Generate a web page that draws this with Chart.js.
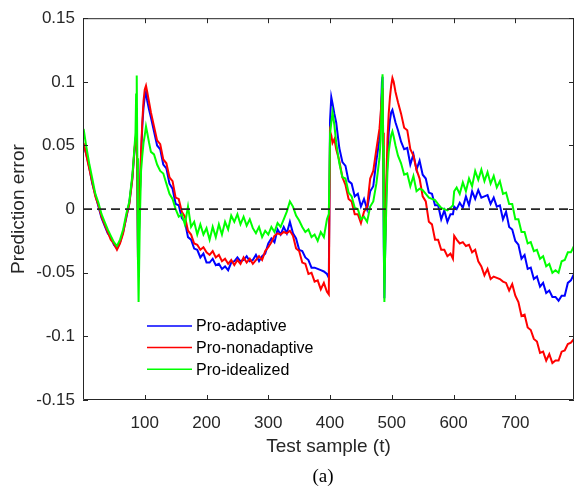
<!DOCTYPE html>
<html>
<head>
<meta charset="utf-8">
<script src="https://cdn.jsdelivr.net/npm/chart.js@4.4.1/dist/chart.umd.min.js"></script>
<style>
  html, body { margin: 0; padding: 0; background: #fff; }
  #wrap { width: 576px; height: 486px; position: relative; }
</style>
</head>
<body>
<div id="wrap"><canvas id="chart-error"></canvas></div>
<script>
// Test sample index (t) at which each value was read
const samples = [
  1, 5, 10, 15, 20, 25, 30, 35, 40, 45, 50, 55, 60, 65, 70, 75, 80,
  83, 85, 86, 87, 88, 89, 90, 92, 94, 96, 98, 100, 102, 104, 107, 110,
  115, 120, 125, 130, 135, 140, 145, 150, 155, 160, 165, 170, 175, 180, 185, 190, 195, 200,
  205, 210, 215, 220, 225, 230, 235, 240, 245, 250, 255, 260, 265, 270, 275, 280, 285, 290, 295, 300,
  305, 310, 315, 320, 325, 330, 335, 340, 345, 350, 355, 360, 365, 370, 375, 380, 385, 390, 395,
  398, 400, 402, 404, 407, 410,
  415, 420, 425, 430, 435, 440, 445, 450, 455, 460, 465, 470, 475, 480,
  482, 484, 485, 486, 487, 488, 489, 491, 493, 495, 497, 499, 501, 503, 506, 510,
  515, 520, 525, 530, 535, 540, 545, 550, 555, 560, 565, 570, 575, 580, 585, 590, 595,
  599, 601,
  605, 610, 615, 620, 625, 630, 635, 640, 645, 650, 655, 660, 665, 670, 675, 680, 685, 690, 695, 700,
  705, 710, 715, 720, 725, 730, 735, 740, 745, 750, 755, 760, 765, 770, 775, 780, 785, 790, 795
];

const proAdaptive = [
  0.050, 0.044, 0.033, 0.020, 0.011, 0.002, -0.007, -0.013, -0.019, -0.022, -0.028, -0.031, -0.026, -0.018, -0.007, 0.005, 0.025,
  0.044, 0.054, 0.057, 0.054, 0.018, -0.038, -0.032, 0.008, 0.042, 0.065, 0.080, 0.088, 0.092, 0.085, 0.078, 0.072,
  0.061, 0.050, 0.047, 0.035, 0.032, 0.020, 0.016, 0.004, 0.003, -0.007, -0.010, -0.022, -0.024, -0.031, -0.032, -0.038, -0.035, -0.042,
  -0.042, -0.039, -0.044, -0.043, -0.047, -0.045, -0.048, -0.042, -0.041, -0.038, -0.041, -0.040, -0.037, -0.041, -0.040, -0.036, -0.041, -0.037, -0.035, -0.027,
  -0.023, -0.026, -0.016, -0.020, -0.014, -0.019, -0.010, -0.019, -0.023, -0.032, -0.033, -0.038, -0.040, -0.046, -0.046, -0.047, -0.048, -0.049, -0.051,
  -0.054, 0.070, 0.088, 0.083, 0.075, 0.068,
  0.048, 0.037, 0.034, 0.022, 0.020, 0.010, 0.012, 0.002, 0.008, 0.000, 0.014, 0.018, 0.038, 0.055,
  0.070, 0.100, 0.104, 0.040, -0.030, -0.070, -0.040, 0.010, 0.040, 0.060, 0.070, 0.076, 0.078, 0.074, 0.068, 0.062,
  0.053, 0.047, 0.048, 0.035, 0.043, 0.031, 0.038, 0.027, 0.024, 0.013, 0.012, 0.003, 0.003, -0.008, -0.001, -0.010, -0.004,
  -0.004, 0.002,
  0.000, 0.005, 0.001, 0.010, 0.003, 0.014, 0.008, 0.015, 0.009, 0.010, 0.011, 0.004, 0.009, 0.002, 0.003, -0.008, -0.002, -0.014, -0.016, -0.025,
  -0.028, -0.039, -0.036, -0.047, -0.046, -0.055, -0.053, -0.061, -0.058, -0.066, -0.064, -0.069, -0.069, -0.072, -0.068, -0.068, -0.058, -0.056, -0.051
];

const proNonadaptive = [
  0.052, 0.043, 0.032, 0.021, 0.010, 0.003, -0.006, -0.012, -0.018, -0.024, -0.027, -0.032, -0.027, -0.019, -0.006, 0.004, 0.024,
  0.045, 0.055, 0.058, 0.055, 0.020, -0.040, -0.030, 0.010, 0.045, 0.068, 0.085, 0.094, 0.097, 0.092, 0.084, 0.076,
  0.065, 0.054, 0.051, 0.039, 0.036, 0.025, 0.022, 0.009, 0.008, -0.002, -0.006, -0.017, -0.020, -0.027, -0.028, -0.032, -0.030, -0.034,
  -0.036, -0.033, -0.038, -0.036, -0.041, -0.039, -0.043, -0.040, -0.044, -0.040, -0.043, -0.038, -0.042, -0.039, -0.043, -0.040, -0.037, -0.040, -0.033, -0.030,
  -0.026, -0.021, -0.019, -0.020, -0.018, -0.019, -0.017, -0.021, -0.031, -0.033, -0.042, -0.043, -0.051, -0.050, -0.057, -0.056, -0.063, -0.058, -0.065,
  -0.067, 0.061, 0.058, 0.052, 0.055, 0.047,
  0.038, 0.025, 0.019, 0.008, 0.006, -0.004, -0.004, -0.011, -0.002, 0.002, 0.024, 0.030, 0.047, 0.063,
  0.075, 0.090, 0.095, 0.060, 0.010, -0.025, -0.028, 0.020, 0.055, 0.075, 0.088, 0.097, 0.103, 0.100, 0.092, 0.084,
  0.075, 0.064, 0.062, 0.047, 0.042, 0.031, 0.024, 0.010, 0.006, -0.010, -0.012, -0.024, -0.024, -0.032, -0.032, -0.037, -0.035,
  -0.039, -0.021,
  -0.024, -0.027, -0.026, -0.029, -0.028, -0.034, -0.032, -0.041, -0.045, -0.052, -0.047, -0.055, -0.053, -0.054, -0.055, -0.057, -0.058, -0.064, -0.059, -0.068,
  -0.073, -0.084, -0.083, -0.093, -0.095, -0.102, -0.104, -0.113, -0.112, -0.119, -0.114, -0.121, -0.119, -0.119, -0.112, -0.111, -0.106, -0.105, -0.102
];

const proIdealized = [
  0.063, 0.050, 0.036, 0.024, 0.012, 0.005, -0.004, -0.010, -0.016, -0.021, -0.026, -0.029, -0.024, -0.016, -0.004, 0.006, 0.027,
  0.046, 0.060, 0.090, 0.105, 0.040, -0.040, -0.073, -0.010, 0.030, 0.042, 0.052, 0.058, 0.065, 0.060, 0.052, 0.045,
  0.043, 0.035, 0.030, 0.028, 0.020, 0.012, 0.008, 0.000, -0.006, -0.004, -0.012, 0.002, -0.014, -0.010, -0.020, -0.012, -0.020, -0.015,
  -0.024, -0.014, -0.022, -0.012, -0.020, -0.010, -0.016, -0.005, -0.010, -0.004, -0.012, -0.006, -0.013, -0.008, -0.015, -0.019, -0.014, -0.022, -0.017, -0.020,
  -0.014, -0.018, -0.011, -0.014, -0.008, -0.002, 0.006, 0.002, -0.005, -0.009, -0.014, -0.018, -0.016, -0.022, -0.020, -0.025, -0.018, -0.022, -0.008,
  -0.004, 0.059, 0.068, 0.076, 0.066, 0.052,
  0.036, 0.025, 0.024, 0.013, 0.010, 0.001, 0.000, -0.008, -0.006, -0.010, 0.002, 0.006, 0.020, 0.040,
  0.055, 0.090, 0.106, 0.050, -0.020, -0.073, -0.040, 0.000, 0.030, 0.045, 0.052, 0.058, 0.061, 0.057, 0.050, 0.042,
  0.036, 0.027, 0.028, 0.018, 0.026, 0.014, 0.016, 0.015, 0.012, 0.009, 0.008, 0.007, 0.004, 0.001, 0.000, -0.001, 0.001,
  0.003, 0.014,
  0.017, 0.012, 0.021, 0.014, 0.024, 0.018, 0.030, 0.023, 0.031, 0.022, 0.029, 0.020, 0.026, 0.017, 0.022, 0.012, 0.013, 0.004, 0.004, -0.008,
  -0.008, -0.018, -0.018, -0.027, -0.026, -0.033, -0.032, -0.039, -0.037, -0.045, -0.043, -0.050, -0.048, -0.050, -0.041, -0.040, -0.034, -0.034, -0.029
];

const xTicks = [100, 200, 300, 400, 500, 600, 700];
const yTicks = [-0.15, -0.1, -0.05, 0, 0.05, 0.1, 0.15];
const xRange = [0, 795];

const toPoints = (vals) => vals.map((v, i) => ({ x: samples[i], y: v }));

// MATLAB-like box with inward ticks, drawn over the lines
const boxPlugin = {
  id: 'box',
  afterDatasetsDraw(chart) {
    const { ctx, chartArea: a, scales: { x, y } } = chart;
    ctx.save();
    ctx.strokeStyle = '#262626';
    ctx.lineWidth = 1;
    ctx.beginPath();
    ctx.rect(a.left + 0.5, a.top + 0.5, a.right - a.left - 1, a.bottom - a.top - 1);
    xTicks.forEach(v => {
      const px = Math.round(x.getPixelForValue(v)) + 0.5;
      ctx.moveTo(px, a.bottom); ctx.lineTo(px, a.bottom - 5);
      ctx.moveTo(px, a.top); ctx.lineTo(px, a.top + 5);
    });
    yTicks.forEach(v => {
      const py = Math.round(y.getPixelForValue(v)) + 0.5;
      ctx.moveTo(a.left, py); ctx.lineTo(a.left + 5, py);
      ctx.moveTo(a.right, py); ctx.lineTo(a.right - 5, py);
    });
    ctx.stroke();
    ctx.restore();
  }
};

// legend inside the axes, no frame, plus the "(a)" caption
const insideLegend = {
  id: 'insideLegend',
  afterDraw(chart) {
    const { ctx } = chart;
    const items = chart.data.datasets.filter(d => d.inLegend).sort((a, b) => a.legendPos - b.legendPos);
    ctx.save();
    ctx.font = '16px "Liberation Sans", Arial, sans-serif';
    ctx.textBaseline = 'middle';
    ctx.fillStyle = '#000';
    items.forEach((d, i) => {
      const yy = 326 + i * 21.6;
      ctx.strokeStyle = d.borderColor;
      ctx.lineWidth = 1.5;
      ctx.beginPath();
      ctx.moveTo(147, yy); ctx.lineTo(192, yy);
      ctx.stroke();
      ctx.fillText(d.label, 196, yy + 1);
    });
    ctx.fillStyle = '#000';
    ctx.font = '19px "Liberation Serif", "Times New Roman", serif';
    ctx.textAlign = 'center';
    ctx.fillText('(a)', 323, 477);
    ctx.restore();
  }
};

Chart.defaults.font.family = '"Liberation Sans", Arial, sans-serif';

const myChart = new Chart(document.getElementById('chart-error'), {
  type: 'line',
  data: {
    datasets: [
      {
        label: 'zero',
        data: [{ x: xRange[0], y: 0 }, { x: xRange[1], y: 0 }],
        borderColor: '#262626', borderWidth: 1.6, borderDash: [9, 5],
        pointRadius: 0, order: 0
      },
      {
        label: 'Pro-idealized', data: toPoints(proIdealized),
        borderColor: '#00ff00', borderWidth: 2, pointRadius: 0, order: 1,
        inLegend: true, legendPos: 2
      },
      {
        label: 'Pro-nonadaptive', data: toPoints(proNonadaptive),
        borderColor: '#ff0000', borderWidth: 2, pointRadius: 0, order: 2,
        inLegend: true, legendPos: 1
      },
      {
        label: 'Pro-adaptive', data: toPoints(proAdaptive),
        borderColor: '#0000ff', borderWidth: 2, pointRadius: 0, order: 3,
        inLegend: true, legendPos: 0
      }
    ]
  },
  options: {
    responsive: true,
    maintainAspectRatio: false,
    animation: false,
    devicePixelRatio: 1,
    layout: { padding: { top: 16, right: 2, left: 0, bottom: 0 } },
    plugins: { legend: { display: false }, tooltip: { enabled: false } },
    scales: {
      x: {
        type: 'linear', min: xRange[0], max: xRange[1],
        afterBuildTicks: s => { s.ticks = xTicks.map(v => ({ value: v })); },
        afterFit: s => { s.height = 86; },
        grid: { display: false, drawTicks: false }, border: { display: false },
        ticks: { color: '#262626', font: { size: 17 }, padding: 13, maxRotation: 0, autoSkip: false },
        title: { display: true, text: 'Test sample (t)', color: '#262626', font: { size: 19 }, padding: { top: 4, bottom: 28 } }
      },
      y: {
        min: -0.15, max: 0.15,
        afterBuildTicks: s => { s.ticks = yTicks.map(v => ({ value: v })); },
        afterFit: s => { s.width = 83; },
        grid: { display: false, drawTicks: false }, border: { display: false },
        ticks: { color: '#262626', font: { size: 17 }, padding: 8, callback: v => String(+v.toFixed(2)) },
        title: { display: true, text: 'Prediction error', color: '#262626', font: { size: 19 }, padding: { top: 7, bottom: 0 } }
      }
    }
  },
  plugins: [boxPlugin, insideLegend]
});
</script>
</body>
</html>
